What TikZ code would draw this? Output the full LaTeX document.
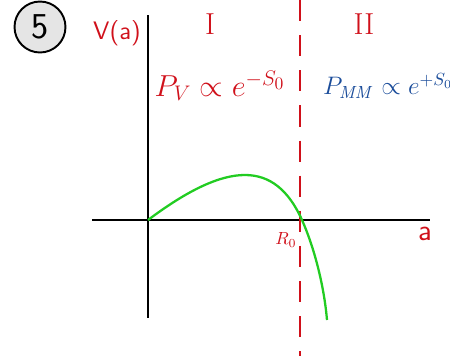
\documentclass[tikz,border=0pt]{standalone}
\usepackage{xcolor}
\usepackage{tikz}
\usetikzlibrary{positioning,arrows.meta}
\definecolor{inkred}{HTML}{D0101A}
\definecolor{inkblue}{HTML}{1A4C9A}
\definecolor{inkgreen}{HTML}{22CC22}

\begin{document}
\begin{tikzpicture}[x=0.02cm, y=-0.02cm, axis/.style={line width=1.1pt, black}, lbl/.style={text=inkred, font=\sffamily\Large, inner sep=0pt}, barrier/.style={inkred, line width=1.1pt, dash pattern=on 12pt off 8pt}]
\useasboundingbox (0,0) rectangle (450,359);
\node[circle, draw, line width=1.1pt, fill=gray!20, minimum size=1.02cm, font=\sffamily\huge] (num) at (40,27) {5};
\coordinate (vtop) at (148,15);
\coordinate (vbot) at (148,318);
\coordinate (hleft) at (92,220);
\coordinate (hright) at (430,220);
\draw[axis] (vtop) -- (vbot);
\draw[axis] (hleft) -- (hright);
\coordinate (btop) at (300,0);
\coordinate (bbot) at (300,356);
\draw[barrier] (btop) -- (bbot);
\node[lbl] (vlab) at (117,33) {V(a)};
\node[lbl, font=\rmfamily\LARGE] (one) at (210,24) {I};
\node[lbl, font=\rmfamily\LARGE] (two) at (364,24) {II};
\node[lbl, font=\LARGE] (pv) at (220,86) {$P_V\propto e^{-S_0}$};
\node[lbl, text=inkblue, font=\Large] (pmm) at (388,86) {$P_{\mathit{MM}}\propto e^{+S_0}$};
\node[lbl, font=\sffamily\normalsize] (rzero) at (286,240) {$R_0$};
\node[lbl, font=\sffamily\LARGE] (alab) at (425,234) {a};
% potential curve
\coordinate (orig) at (148,220);
\coordinate (rcross) at (302,220);
\coordinate (tail) at (327,320);
\draw[inkgreen, line width=1.3pt] (orig) .. controls (228,160) and (275,160) .. (rcross) .. controls (314,247) and (324,285) .. (tail);
\end{tikzpicture}
\end{document}
